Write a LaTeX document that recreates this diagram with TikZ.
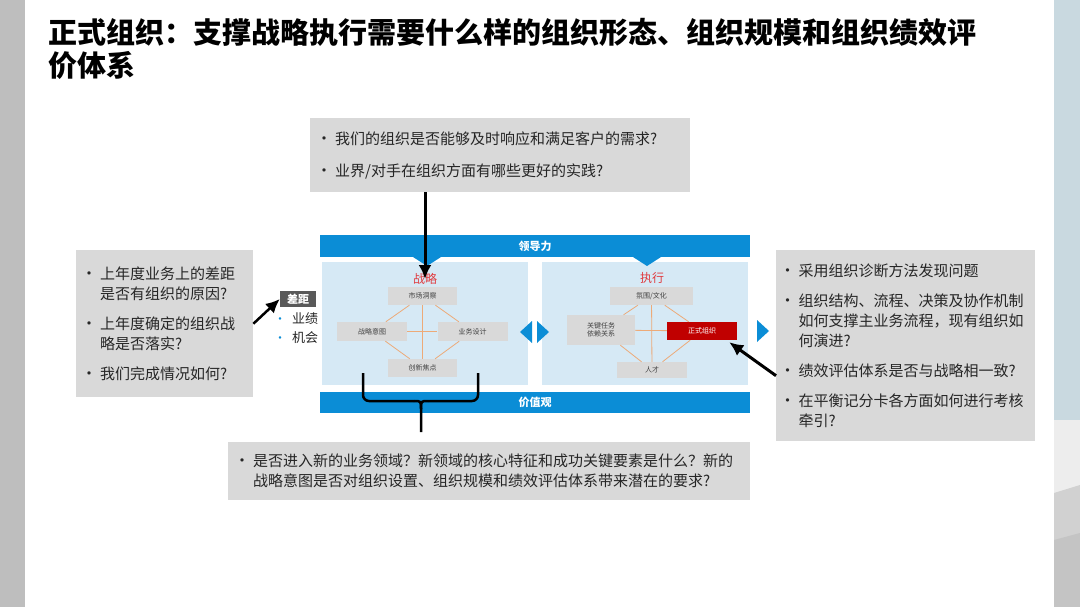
\documentclass[tikz,border=0pt]{standalone}
\usepackage{fontspec}
\setmainfont{Noto Sans CJK SC}
\usetikzlibrary{arrows.meta,calc}

\definecolor{stripgray}{HTML}{BEBEBE}
\definecolor{stripblue}{HTML}{C9D9E0}
\definecolor{boxgray}{HTML}{D9D9D9}
\definecolor{blmblue}{HTML}{0B8DD6}
\definecolor{panelblue}{HTML}{D6E9F5}
\definecolor{linkorange}{HTML}{EDAA78}
\definecolor{formalred}{HTML}{C00000}
\definecolor{labelred}{HTML}{E03A3E}
\definecolor{taggray}{HTML}{595959}
\definecolor{textdark}{HTML}{262626}
\definecolor{textmid}{HTML}{404040}

\newcommand{\qitem}{\makebox[13pt][l]{\hspace*{-6pt}\fontsize{16}{16}\selectfont •}}
\newcommand{\qind}{\hspace*{13pt}}

\tikzset{
  qbox/.style={fill=boxgray, anchor=north west, align=left, inner ysep=0pt,
    text=textdark, font=\fontsize{15}{20}\selectfont},
  blmbox/.style={fill=boxgray, minimum width=69pt, minimum height=18pt,
    inner sep=1pt, align=center, text=textmid, font=\fontsize{7}{8}\selectfont},
  blmline/.style={draw=linkorange, line width=0.8pt},
  bandlabel/.style={text=white, font=\fontsize{11}{11}\selectfont\bfseries},
  redlabel/.style={text=labelred, font=\fontsize{12}{12}\selectfont},
  bigarrow/.style={line width=3pt, -{Latex[length=14pt,width=13pt]}},
}

\begin{document}
\begin{tikzpicture}[x=1pt,y=-1pt]
  \useasboundingbox (0,0) rectangle (1080,607);

  % Bordes de la diapositiva
  \fill[white] (0,0) rectangle (1080,607);
  \fill[stripgray] (0,0) rectangle (25,607);
  \fill[stripblue] (1054,0) rectangle (1080,420);
  \fill[black!7] (1054,420) rectangle (1080,493);
  \fill[black!18] (1054,493) -- (1080,485) -- (1080,607) -- (1054,607) -- cycle;
  \fill[black!23] (1054,540) -- (1080,533) -- (1080,607) -- (1054,607) -- cycle;

  % Titulo
  \node[anchor=north west, align=left, inner sep=0pt,
    font=\fontsize{29}{33}\selectfont\bfseries] (title) at (48,18)
    {正式组织：支撑战略执行需要什么样的组织形态、组织规模和组织绩效评\\价体系};

  % Paneles del modelo
  \fill[panelblue] (322,262) rectangle (528,385);
  \fill[panelblue] (542,262) rectangle (748,385);
  \fill[blmblue] (320,235) rectangle (750,257);
  \fill[blmblue] (413,257) -- (441,257) -- (427,266) -- cycle;
  \fill[blmblue] (633,257) -- (661,257) -- (647,266) -- cycle;
  \fill[blmblue] (320,392) rectangle (750,413);
  \node[bandlabel] (lead) at (535,246) {领导力};
  \node[bandlabel] (values) at (535,402) {价值观};

  % Flechas azules
  \fill[blmblue] (532,321) -- (532,343) -- (520,332) -- cycle;
  \fill[blmblue] (537,321) -- (537,343) -- (549,332) -- cycle;
  \fill[blmblue] (757,320) -- (757,342) -- (769,331) -- cycle;

  % Estrategia
  \node[redlabel] (stratlbl) at (425,279) {战略};
  \node[blmbox] (mkt) at (422.5,296) {市场洞察};
  \node[blmbox, minimum width=70pt, minimum height=19pt] (intent) at (372,331.5) {战略意图};
  \node[blmbox, minimum width=70pt, minimum height=19pt] (biz) at (472.5,331.5) {业务设计};
  \node[blmbox] (innov) at (422.5,368) {创新焦点};
  \foreach \a/\b in {mkt/intent, mkt/biz, intent/innov, biz/innov, mkt/innov, intent/biz}
    \draw[blmline] (\a) -- (\b);

  % Ejecucion
  \node[redlabel] (execlbl) at (652,278) {执行};
  \node[blmbox, minimum width=83pt] (climate) at (651.5,296) {氛围/文化};
  \node[blmbox, minimum width=68pt, minimum height=30pt] (task) at (601,330) {关键任务\\依赖关系};
  \node[blmbox, minimum width=70pt, fill=formalred, text=white] (formal) at (702,331) {正式组织};
  \node[blmbox, minimum width=70pt, minimum height=16pt] (talent) at (652,370) {人才};
  \foreach \a/\b in {climate/task, climate/formal, task/talent, formal/talent, climate/talent, task/formal}
    \draw[blmline] (\a) -- (\b);

  % Cajas de preguntas
  \node[qbox, minimum width=380pt, minimum height=74pt, text width=356pt, inner xsep=12pt] (topq) at (310,118)
    {\qitem 我们的组织是否能够及时响应和满足客户的需求?\\[12pt]
     \qitem 业界/对手在组织方面有哪些更好的实践?};
  \node[qbox, minimum width=177pt, minimum height=147pt, text width=155pt, inner xsep=11pt] (gapq) at (76,250)
    {\qitem 上年度业务上的差距\\ \qind 是否有组织的原因?\\[10pt]
     \qitem 上年度确定的组织战\\ \qind 略是否落实?\\[10pt]
     \qitem 我们完成情况如何?};
  \node[qbox, minimum width=259pt, minimum height=191pt, text width=240pt, inner xsep=9.5pt] (sysq) at (776,250)
    {\qitem 采用组织诊断方法发现问题\\[10pt]
     \qitem 组织结构、流程、决策及协作机制\\ \qind 如何支撑主业务流程，现有组织如\\ \qind 何演进?\\[10pt]
     \qitem 绩效评估体系是否与战略相一致?\\[10pt]
     \qitem 在平衡记分卡各方面如何进行考核\\ \qind 牵引?};
  \node[qbox, minimum width=522pt, minimum height=58pt, text width=498pt, inner xsep=12pt] (newq) at (228,442)
    {\qitem 是否进入新的业务领域？新领域的核心特征和成功关键要素是什么？新的\\
     \qind 战略意图是否对组织设置、组织规模和绩效评估体系带来潜在的要求?};

  %差距
  \node[fill=taggray, text=white, minimum width=36pt, minimum height=16pt, inner sep=0pt,
    font=\fontsize{11}{11}\selectfont\bfseries] (gaptag) at (298,299) {差距};
  \node[anchor=west, inner sep=0pt, text=textdark, font=\fontsize{13}{13}\selectfont] (perf) at (274,319)
    {\textcolor{blmblue}{\fontsize{12}{12}\selectfont •}\hspace{6pt}业绩};
  \node[anchor=west, inner sep=0pt, text=textdark, font=\fontsize{13}{13}\selectfont] (chance) at (274,338)
    {\textcolor{blmblue}{\fontsize{12}{12}\selectfont •}\hspace{6pt}机会};

  % Llave
  \coordinate (braceL) at (363,373);
  \coordinate (braceR) at (478,373);
  \coordinate (braceTip) at (421,432);
  \draw[line width=2.5pt, rounded corners=6pt] (braceL) |- (414,401);
  \draw[line width=2.5pt, rounded corners=6pt] (braceR) |- (428,401);
  \draw[line width=2.5pt] (414,401) .. controls (421,401) .. (421,409) -- (braceTip);
  \draw[line width=2.5pt] (428,401) .. controls (421,401) .. (421,409);

  % Flechas negras
  \draw[bigarrow] (topq.south -| stratlbl) -- (stratlbl.center);
  \draw[bigarrow, line width=2.5pt] (gapq.east) -- (gaptag.west);
  \draw[bigarrow] ([yshift=-30pt]sysq.west) -- ([xshift=-8pt,yshift=-2pt]formal.south east);
\end{tikzpicture}
\end{document}
